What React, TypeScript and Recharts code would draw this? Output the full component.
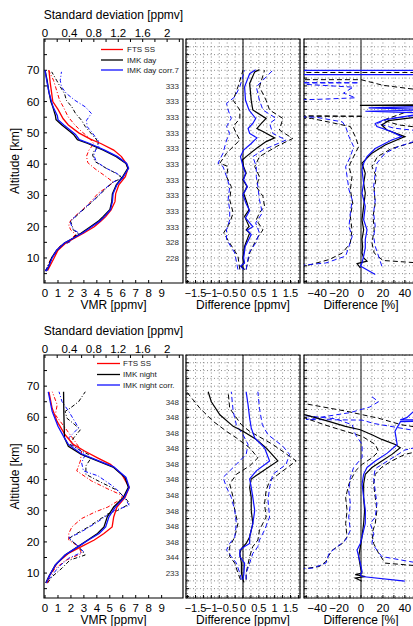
import {
  ScatterChart,
  Scatter,
  XAxis,
  YAxis,
  CartesianGrid,
  ReferenceLine,
  ReferenceArea,
} from "recharts";

type Pt = [number, number]; // [value, altitude km]

// ---- axes / ticks ----
const altTicks = [5, 10, 15, 20, 25, 30, 35, 40, 45, 50, 55, 60, 65, 70, 75];
const gridAltTicks = [
  2.5, 5, 7.5, 10, 12.5, 15, 17.5, 20, 22.5, 25, 27.5, 30, 32.5, 35, 37.5, 40,
  42.5, 45, 47.5, 50, 52.5, 55, 57.5, 60, 62.5, 65, 67.5, 70, 72.5, 75, 77.5,
];
const vmrTicks = [0, 1, 2, 3, 4, 5, 6, 7, 8, 9];
const stdTicks = [0, 0.2, 0.4, 0.6, 0.8, 1, 1.2, 1.4, 1.6, 1.8, 2, 2.2];
const stdLabels = [0, 0.4, 0.8, 1.2, 1.6, 2];
const diffTicks = [-1.75, -1.5, -1.25, -1, -0.75, -0.5, -0.25, 0, 0.25, 0.5, 0.75, 1, 1.25, 1.5, 1.75];
const diffLabels = [-1.5, -1, -0.5, 0, 0.5, 1, 1.5];
const pctTicks = [-50, -40, -30, -20, -10, 0, 10, 20, 30, 40, 50];
const pctLabels = [-40, -20, 0, 20, 40];

// number of coincidences per altitude level
const countAlts = [10, 15, 20, 25, 30, 35, 40, 45, 50, 55, 60, 65, 70];
const dayCounts = ["228", "328", "333", "333", "333", "333", "333", "333", "333", "333", "333", "333", "7"];
const nightCounts = ["233", "344", "348", "348", "348", "348", "348", "348", "348", "348", "348", "348", ""];

// ---- day: VMR profiles ----
const dayFtsVmr: Pt[] = [[0.2,6],[0.45,8],[0.7,10],[1.0,12.5],[1.6,14.8],[2.3,16.4],[3.0,18],[3.8,20],[4.3,21.7],[4.7,23.3],[5.1,25.4],[5.4,28],[5.45,30.5],[5.7,33.4],[6.2,36],[6.4,38.5],[6.3,40],[5.9,42.4],[5.3,44.5],[4.3,46.6],[3.5,48],[2.6,50],[1.8,52.5],[1.4,54.5],[1.0,57.5],[0.6,60],[0.5,63],[0.4,66],[0.3,70]];
const dayImkVmr: Pt[] = [[0.1,5.8],[0.3,7.5],[0.5,10],[0.9,12.5],[1.5,14.8],[2.2,16.4],[2.8,18],[3.5,20],[4.1,21.7],[4.5,23.3],[5.0,25.4],[5.15,28],[5.2,30.5],[5.5,33.4],[6.0,36],[6.4,38.7],[6.25,40.2],[5.5,42.4],[4.5,44.5],[3.3,46.6],[2.5,47.8],[2.2,49.5],[1.9,50.5],[1.3,52.5],[0.85,54.2],[0.8,55.5],[0.6,58.3],[0.45,60],[0.3,63],[0.15,67],[0,70]];
const dayCorrVmr: Pt[] = [[0.1,5.8],[0.3,7.5],[0.55,10],[0.9,12.5],[1.5,14.8],[2.2,16.4],[2.9,18],[3.6,20],[4.2,21.7],[4.6,23.3],[5.05,25.4],[5.2,28],[5.25,30.5],[5.55,33.4],[6.05,36],[6.45,38.7],[6.3,40.2],[5.6,42.4],[4.6,44.5],[3.45,46.6],[2.65,47.8],[2.35,49.5],[2.05,50.5],[1.45,52.5],[1.0,54.2],[0.95,55.5],[0.62,58.3],[0.5,60],[0.3,63],[0.12,67],[0,70]];
const dayFtsStd: Pt[] = [[0.01,5.8],[0.1,10],[0.24,13.7],[0.4,15.5],[0.5,17.5],[0.42,19],[0.39,20.5],[0.42,22],[0.5,23.5],[0.62,25.5],[0.75,28],[0.87,30.7],[1.03,32.8],[1.12,34.2],[1.0,36],[0.82,38.5],[0.7,40.5],[0.68,42.5],[0.72,44.5],[0.8,46.5],[0.72,48.5],[0.6,50.4],[0.49,52.5],[0.38,55.1],[0.3,58.3],[0.24,60.4],[0.19,63.6],[0.14,66.8],[0.06,70]];
const dayImkStd: Pt[] = [[0.005,5.8],[0.11,10],[0.25,13.7],[0.41,15.3],[0.54,18],[0.46,19],[0.45,20],[0.42,21.7],[0.48,22.8],[0.57,24.4],[0.69,26.5],[0.81,28.6],[0.92,30.7],[1.03,32.8],[1.12,34.4],[1.27,35.5],[1.16,37.1],[1.0,38.7],[0.82,40.8],[0.78,42.9],[0.81,44.5],[0.87,45.6],[0.85,47.7],[0.8,48.8],[0.73,50.4],[0.66,52],[0.6,54],[0.5,56.2],[0.44,58.3],[0.35,60.4],[0.32,62.6],[0.25,64.7],[0.19,66.8],[0.11,69.5]];
const dayCorrStd: Pt[] = [[0.005,5.8],[0.12,10],[0.26,13.7],[0.42,15.3],[0.56,18],[0.47,19],[0.44,20],[0.41,21.7],[0.47,22.8],[0.56,24.4],[0.68,26.5],[0.8,28.6],[0.91,30.7],[1.02,32.8],[1.13,34.4],[1.29,35.5],[1.17,37.1],[1.0,38.7],[0.84,40.8],[0.8,42.9],[0.83,44.5],[0.88,45.6],[0.87,47.7],[0.82,48.8],[0.76,50.4],[0.69,52],[0.68,54],[0.76,56.2],[0.66,58.3],[0.49,60.4],[0.35,62.6],[0.27,64.7],[0.25,66.8],[0.27,69.5]];

// ---- day: differences [ppmv] ----
const dayDiffImk: Pt[] = [[0.05,6.3],[-0.05,7.4],[0.03,8.4],[0,10],[0.05,13.7],[0.21,18],[0.1,19],[0.19,20.1],[0.05,23.3],[0.19,25.4],[0.13,27.5],[0.02,30.7],[0.13,32.8],[0,35],[0.1,37.1],[0.02,39.2],[-0.02,41.3],[0.1,42.4],[0.42,45],[0.73,47.2],[1.0,48.4],[0.63,50.4],[0.44,51.4],[0.58,53],[0.73,54.6],[0.31,57.3],[0.26,60.4],[0.21,65.8],[0.37,69.5],[0.52,70.2]];
const dayDiffCorr: Pt[] = [[0.02,6.3],[-0.08,7.4],[0.05,8.4],[0.02,10],[0.07,13.7],[0.26,17.5],[0.13,18.9],[0.31,20],[0.08,22.8],[0.21,25.2],[0.1,27.3],[0,30.2],[0.14,32.8],[0.02,35],[0.08,37.1],[0,39.2],[-0.05,41.3],[-0.08,42.4],[0.02,44.5],[0.26,46.6],[0.44,48.4],[0.21,49.8],[0.16,51.4],[0.31,53],[0.4,54.6],[0.19,57.3],[0.08,60.4],[0.05,64.7],[0.21,68.9],[0.4,70.2]];
const dayDiffImkHi: Pt[] = [[0.1,6.3],[0.21,11.6],[0.42,15.9],[0.63,19],[0.42,22.2],[0.52,24.4],[0.68,26.5],[0.63,29.7],[0.42,32.8],[0.52,36],[0.37,39.2],[0.52,42.4],[1.05,45.6],[1.57,48.2],[1.15,50.9],[1.26,54.6],[0.84,57.3],[0.73,60.4],[0.52,64.7],[0.68,70]];
const dayDiffCorrHi: Pt[] = [[0.1,6.3],[0.19,11.6],[0.4,14.8],[0.52,18],[0.4,21.2],[0.61,24.4],[0.52,28.6],[0.47,32.8],[0.42,36],[0.42,39.2],[0.31,42.4],[0.63,44.5],[1.36,47.7],[0.94,49.8],[0.84,53],[1.05,54.6],[0.63,57.3],[0.52,60.4],[0.42,64.7],[0.94,70]];
const dayDiffImkLo: Pt[] = [[-0.1,6.3],[-0.16,10.6],[-0.42,14.8],[-0.61,18],[-0.42,21.2],[-0.31,24.4],[-0.42,28.6],[-0.37,32.8],[-0.52,36],[-0.47,39.2],[-0.73,40.3],[-0.52,43.5],[-0.1,47.7],[-0.21,49.8],[-0.31,52],[-0.1,54.6],[-0.1,57.3],[-0.31,60.4],[-0.16,64.7],[0,70]];
const dayDiffCorrLo: Pt[] = [[-0.16,6.3],[-0.26,11.6],[-0.52,15.9],[-0.52,19],[-0.42,22.2],[-0.42,25.4],[-0.47,28.6],[-0.42,32.8],[-0.52,36],[-0.63,39.2],[-0.79,40.3],[-0.63,43.5],[-0.52,47.7],[-0.42,49.8],[-0.52,52],[-0.37,54.6],[-0.47,57.3],[-0.52,59.4],[-0.26,61.5],[-0.1,64.7],[0.05,70]];

// ---- day: differences [%] ----
const dayPctImk: Pt[] = [[-0.6,6.8],[-3.6,8.2],[5.5,9],[2.4,10],[0.9,11.6],[1.5,13.7],[0.9,15.9],[2.4,19],[0.9,22.2],[2.4,26.5],[3.9,30.7],[2.4,33.9],[3.9,37.1],[0.9,40.3],[10,43.5],[22,46.1],[40,48.8],[23.6,50.9],[19,52.5],[25,53.9],[48,54.9],[70,55.5],[70,58.6],[-1,58.8],[70,59]];
const dayPctCorr: Pt[] = [[13,4.7],[-0.6,7.4],[0.9,8.4],[2.4,10.6],[3.9,13.2],[3.9,15.9],[5.5,19],[2.4,22.2],[3.9,26.5],[0.9,30.7],[2.4,33.9],[0.9,38.2],[2.4,40.3],[5.5,42.4],[13,45],[28,47.7],[37,48.8],[28,50.4],[14.5,52],[13,53],[20.6,54.1],[48,55.7],[70,56.2],[4,56.9],[70,57.4],[7,58],[70,58.5],[70,68.6],[-70,68.6],[-70,70],[70,70]];
const dayPctImkLo: Pt[] = [[-70,7.2],[-50,7.5],[-29,9.5],[-17,11.6],[-9.7,14.8],[-8.2,19],[-9.7,23.3],[-7.6,27.5],[-9.7,31.8],[-8.2,36],[-11.2,39.2],[-6.7,42.4],[-2.1,45.6],[-5.2,48.8],[-9.7,52],[-45,54.6],[-70,54.8],[-70,55.3],[2,55.3],[-70,55.5],[-70,60.6],[-50,60.8],[-70,61.2],[-70,67],[0,67],[20,65.2],[70,63],[70,69.3],[-70,69.3]];
const dayPctImkHi: Pt[] = [[70,8],[20,9.2],[12,11.6],[10,14.8],[12,19],[11,23.3],[13,27.5],[12,31.8],[14,36],[10,39.2],[15,42.4],[28,45],[50,47.2],[70,48],[70,51],[35,52.5],[20,54],[40,56.5],[70,57]];
const dayPctCorrLo: Pt[] = [[-70,7.6],[-50,7.8],[-32,8.4],[-14,10.6],[-11,13.7],[-8,16.9],[-11,20],[-9.7,24.4],[-8,28.6],[-11,31.8],[-12.7,36],[-14,39.2],[-9.7,42.4],[-6.7,45.6],[-11,48.8],[-14,52],[-17,53.5],[-41,55],[-70,55.2],[-70,60.5],[-40,60.7],[-5,61.2],[-16,62.7],[-7,64.6],[-70,65.9],[-2,66],[-70,66.1]];
const dayPctCorrHi: Pt[] = [[19,7.4],[16,10.6],[13,13.7],[11.5,16.9],[13,20],[11.5,24.4],[13,28.6],[11.5,32.8],[13,37.1],[14.5,40.3],[22,43.5],[34,45.6],[48,47.2],[70,48],[70,50],[30,51.5],[15,53],[25,54.5],[60,56],[70,56.5]];

// ---- night: VMR profiles ----
const nightFtsVmr: Pt[] = [[0.18,6.8],[0.3,8.9],[0.93,13.2],[1.8,16.3],[2.8,18.5],[3.8,20.6],[4.55,22.7],[5.18,24.8],[5.3,28],[5.55,31.2],[6.18,34.3],[6.5,37.5],[5.93,41.7],[5.05,44.9],[4.05,47],[3.05,49.2],[2.18,51.3],[1.55,54.4],[0.93,58.7],[0.55,62.9],[0.3,68.2]];
const nightImkVmr: Pt[] = [[0.05,6.8],[0.3,8.9],[0.8,12.6],[1.55,15.8],[2.55,18.5],[3.3,20.6],[4.05,22.7],[4.55,24.8],[4.8,28],[5.3,31.2],[6.05,34.3],[6.43,37.5],[6.18,40.7],[5.3,43.9],[4.05,46],[2.8,48.1],[1.8,50.7],[1.5,53.4],[1.45,61.9],[1.43,68.2]];
const nightCorrVmr: Pt[] = [[0.1,6.8],[0.3,8.9],[0.8,12.6],[1.55,15.8],[2.55,18.5],[3.35,20.6],[4.18,22.7],[4.68,24.8],[4.93,28],[5.43,31.2],[6.13,34.3],[6.5,37.5],[6.25,40.7],[5.3,44.1],[4.05,46.2],[2.8,48.3],[1.8,51.3],[1.43,53.9],[1.0,57.1],[0.55,61.9],[0.25,68.2]];
const nightFtsStd: Pt[] = [[0.04,7.9],[0.15,11.1],[0.33,14],[0.6,16.3],[0.55,18.5],[0.39,20.6],[0.39,22.7],[0.44,24.8],[0.6,27.5],[0.82,29.6],[1.03,31.2],[1.25,33.8],[1.27,34.9],[1.03,37],[0.76,39.6],[0.52,42.8],[0.58,46],[0.6,49.2],[0.49,52.3],[0.33,56.6],[0.17,60.8],[0.2,64],[0.12,68.2]];
const nightImkStd: Pt[] = [[0.04,6.8],[0.12,8.9],[0.28,11.6],[0.41,14.2],[0.66,15.8],[0.55,18.5],[0.39,21.1],[0.52,22.7],[0.71,24.8],[0.87,26.9],[1.03,29],[1.19,30.1],[1.38,32.2],[1.35,33.3],[1.19,36.5],[0.87,39.6],[0.67,41.7],[0.67,44.4],[0.74,46.5],[0.71,48.1],[0.55,49.7],[0.41,51.3],[0.47,53.4],[0.58,56],[0.49,57.6],[0.36,59.7],[0.33,61.9],[0.41,62.9],[0.55,65],[0.66,68.2]];
const nightCorrStd: Pt[] = [[0.06,7.9],[0.23,12.1],[0.39,14.8],[0.63,16.9],[0.55,18.5],[0.39,21.4],[0.55,22.7],[0.82,25.9],[1.14,30.1],[1.38,31.7],[1.3,34.3],[1.14,37.5],[0.87,41.2],[0.63,42.8],[0.6,45.4],[0.66,48.1],[0.44,51.3],[0.39,53.4],[0.55,56.6],[0.39,61.9],[0.28,65],[0.23,68.2]];

// ---- night: differences [ppmv] ----
const nightDiffImk: Pt[] = [[0.03,7],[0,7.9],[-0.05,10],[-0.05,13.2],[-0.1,16.3],[-0.05,17.9],[0.1,19.5],[0.21,21.6],[0.31,25.9],[0.26,30.1],[0.26,34.3],[0.21,37.5],[0.26,40.2],[0.63,42.8],[1.1,46],[0.73,50.2],[0.42,52.9],[0,55.5],[-0.31,57.1],[-0.73,60.8],[-1.0,65],[-1.1,68.2]];
const nightDiffCorr: Pt[] = [[0,7.9],[0.03,10],[0.05,13.2],[-0.1,15.3],[-0.1,17.4],[0.05,18.5],[0.21,19.5],[0.21,21.6],[0.31,25.9],[0.37,30.1],[0.31,34.3],[0.26,37.5],[0.21,40.2],[0.42,42.8],[0.84,46],[0.68,50.2],[0.37,53.4],[0.26,56.6],[0.21,59.7],[0.16,64],[0.1,68.2]];
const nightDiffImkHi: Pt[] = [[0.1,7.9],[0.1,10],[0.21,15.3],[0.31,18.5],[0.47,20.6],[0.52,23.8],[0.73,28],[0.68,32.2],[0.73,36.5],[0.84,39.6],[1.26,42.8],[1.68,46],[0.94,51.3],[0.21,55.5],[-0.05,57.6],[-0.42,62.9],[-0.47,68.2]];
const nightDiffImkLo: Pt[] = [[-0.08,7.9],[-0.16,10],[-0.26,13.2],[-0.42,15.3],[-0.42,18.5],[-0.26,21.6],[-0.16,25.9],[-0.26,30.1],[-0.31,34.3],[-0.42,38.6],[-0.21,41.7],[0.21,44.4],[0.47,47],[0.21,50.2],[-0.21,53.4],[-0.52,55.5],[-0.94,58.7],[-1.36,62.9],[-1.78,68.2]];
const nightDiffCorrHi: Pt[] = [[0.1,7.9],[0.1,10],[0.21,13.2],[0.31,16.3],[0.47,18.5],[0.52,20.6],[0.68,23.8],[0.84,28],[0.79,33.3],[0.84,37.5],[0.94,41.7],[1.36,44.9],[1.47,48.1],[1.26,50.7],[0.79,54.4],[0.61,57.6],[0.52,62.9],[0.47,68.2]];
const nightDiffCorrLo: Pt[] = [[-0.05,7.9],[-0.1,10],[-0.21,13.2],[-0.37,15.3],[-0.52,17.4],[-0.42,19.5],[-0.26,21.6],[-0.21,25.9],[-0.26,30.1],[-0.37,34.3],[-0.52,37.5],[-0.63,40.7],[-0.31,43.9],[0.1,48.1],[0.16,51.3],[0,54.4],[-0.21,57.6],[-0.31,61.9],[-0.37,68.2]];

// ---- night: differences [%] ----
const nightPctImk: Pt[] = [[0.9,7.4],[-5.2,8.4],[3.9,8.9],[-5.2,9.5],[0.9,10],[-0.6,12.1],[-2.1,15.3],[-0.6,18.5],[0.9,21.6],[2.4,25.9],[3.3,30.1],[2.4,34.3],[2.4,38.6],[3.9,41.7],[10,43.9],[19,46],[28.2,48.1],[35.8,50.2],[31.2,51.3],[19,52.9],[10,54.4],[-0.6,56],[-14.2,57.1],[-29.4,58.7],[-50.6,60.8],[-70,61.8]];
const nightPctCorr: Pt[] = [[40,7.4],[0.9,8.9],[-0.6,9.5],[0.9,10.5],[-0.6,13.2],[-2.1,15.3],[-3.6,17.4],[-0.6,19.5],[0.9,21.6],[2.4,23.7],[3.9,25.9],[4,30.1],[2.4,34.3],[1,38.6],[2.4,41.7],[5.5,43.9],[13,46],[24,48.5],[33,51.3],[31,55.5],[36,58.6],[70,58.9],[70,59.1],[35.8,59.2],[41.8,59.9],[48,61.9],[70,63.5]];
const nightPctImkHi: Pt[] = [[70,11.8],[22,13.2],[16,16.4],[11.5,19.5],[10,22.7],[13,25.9],[14.5,30.1],[13,34.3],[11.5,38.6],[13,41.7],[19,44],[28,46],[40,48.1],[70,50.5],[70,55.8],[37,57.6],[16,59.7],[-14,62],[-50,64.3],[-70,64.8]];
const nightPctImkLo: Pt[] = [[-70,11.4],[-48,11.6],[-38,12.1],[-32,13.7],[-30,15.3],[-26,17.4],[-17,19.5],[-12.7,21.6],[-14,25.9],[-12.7,30.1],[-14,34.3],[-11,38.6],[-8,40.7],[-5,42.8],[1,44.9],[10,47],[16,49],[13,51.3],[1,53.9],[-14,55.5],[-29,57.1],[-50.6,59.7],[-70,60]];
const nightPctCorrHi: Pt[] = [[70,12.1],[19,15.3],[14.5,17.4],[10,19.5],[11.5,22.7],[8.5,25.9],[13,28],[14.5,32.2],[13,36.4],[11.5,40.5],[13,43.5],[22,45.5],[31,47.5],[40,49.5],[70,52],[70,55],[45,56],[12,58],[1,59.1],[-50,59.3],[-10,61.5],[8,63.3],[16,65],[10,66.6]];
const nightPctCorrLo: Pt[] = [[-70,11],[-44,11.6],[-32,13.2],[-29,16.4],[-21.5,18.5],[-14,20.6],[-9.7,23.7],[-11.2,28],[-9.7,32.2],[-11.2,36.4],[-9.7,40.7],[-6.7,43.9],[1,47.1],[1,51.3],[-5,54.4],[-8,57.6],[-23,59.5],[-50,60.5],[-70,61]];

// ---- styling ----
const FONT = "'Liberation Sans', Arial, Helvetica, sans-serif";
const RED = "#ff0000";
const BLACK = "#000000";
const BLUE = "#1010ff";
const ALT_DOMAIN: [number, number] = [2, 80];
const VMR_DOMAIN: [number, number] = [-0.08, 10.65];
const STD_DOMAIN: [number, number] = [-0.016, 2.26];
const DIFF_DOMAIN: [number, number] = [-1.8, 1.8];
const PCT_DOMAIN: [number, number] = [-52, 52];
const tickStyle = { fontSize: 11.5, fill: "#000" };
const titleStyle = { fontSize: 12, fill: "#000" };
const EXTRA = 6; // room below the axis titles so descenders are not clipped

const pts = (arr: Pt[]) => arr.map(([x, y]) => ({ x, y }));
const fmtMinus = (v: number) => String(v).replace("-", "\u2212");
const noShape = () => <g />;

function trace(key: string, data: Pt[], color: string, dash?: string, width = 1.2, xAxisId: string | number = 0) {
  return (
    <Scatter
      key={key}
      data={pts(data)}
      xAxisId={xAxisId}
      fill={color}
      shape={noShape}
      line={{ stroke: color, strokeWidth: width, strokeDasharray: dash }}
      legendType="none"
      isAnimationActive={false}
    />
  );
}

interface Row {
  top: number;
  height: number;
  ftsVmr: Pt[]; imkVmr: Pt[]; corrVmr: Pt[];
  ftsStd: Pt[]; imkStd: Pt[]; corrStd: Pt[];
  diffImk: Pt[]; diffCorr: Pt[]; diffImkLo: Pt[]; diffImkHi: Pt[]; diffCorrLo: Pt[]; diffCorrHi: Pt[];
  pctImk: Pt[]; pctCorr: Pt[]; pctImkLo: Pt[]; pctImkHi: Pt[]; pctCorrLo: Pt[]; pctCorrHi: Pt[];
  counts: string[];
  labels: string[];
  legendY: number[];
  legendX: [number, number, number];
}

const rows: Row[] = [
  {
    top: 0, height: 310,
    ftsVmr: dayFtsVmr, imkVmr: dayImkVmr, corrVmr: dayCorrVmr,
    ftsStd: dayFtsStd, imkStd: dayImkStd, corrStd: dayCorrStd,
    diffImk: dayDiffImk, diffCorr: dayDiffCorr, diffImkLo: dayDiffImkLo, diffImkHi: dayDiffImkHi, diffCorrLo: dayDiffCorrLo, diffCorrHi: dayDiffCorrHi,
    pctImk: dayPctImk, pctCorr: dayPctCorr, pctImkLo: dayPctImkLo, pctImkHi: dayPctImkHi, pctCorrLo: dayPctCorrLo, pctCorrHi: dayPctCorrHi,
    counts: dayCounts,
    labels: ["FTS SS", "IMK day", "IMK day corr."],
    legendY: [49.5, 60, 70],
    legendX: [101, 123, 127],
  },
  {
    top: 316, height: 309,
    ftsVmr: nightFtsVmr, imkVmr: nightImkVmr, corrVmr: nightCorrVmr,
    ftsStd: nightFtsStd, imkStd: nightImkStd, corrStd: nightCorrStd,
    diffImk: nightDiffImk, diffCorr: nightDiffCorr, diffImkLo: nightDiffImkLo, diffImkHi: nightDiffImkHi, diffCorrLo: nightDiffCorrLo, diffCorrHi: nightDiffCorrHi,
    pctImk: nightPctImk, pctCorr: nightPctCorr, pctImkLo: nightPctImkLo, pctImkHi: nightPctImkHi, pctCorrLo: nightPctCorrLo, pctCorrHi: nightPctCorrHi,
    counts: nightCounts,
    labels: ["FTS SS", "IMK night", "IMK night corr."],
    legendY: [47.5, 58.5, 69],
    legendX: [97, 120, 123],
  },
];

function ProfileRow({ r }: { r: Row }) {
  const countLabel = (v: number) => {
    const i = countAlts.indexOf(v);
    return i >= 0 ? r.counts[i] : "";
  };
  const colors = [RED, BLACK, BLUE];
  const h = r.height + EXTRA;
  return (
    <>
      {/* VMR profiles + standard deviations */}
      <div style={{ position: "absolute", left: 0, top: r.top }}>
        <ScatterChart width={186} height={h} margin={{ top: 0, right: 3, bottom: EXTRA, left: 0 }}>
          <XAxis xAxisId="vmr" type="number" dataKey="x" domain={VMR_DOMAIN} allowDataOverflow ticks={vmrTicks} interval={0}
            height={27} axisLine={false} tickLine={{ stroke: "#000" }} tickSize={-3} tickMargin={8.9} tick={tickStyle}
            label={{ value: "VMR [ppmv]", position: "insideBottom", offset: 0.7, ...titleStyle }} />
          <XAxis xAxisId="std" orientation="top" type="number" dataKey="x" domain={STD_DOMAIN} allowDataOverflow ticks={stdTicks} interval={0}
            height={39} axisLine={false} tickLine={{ stroke: "#000" }} tickSize={-3} tickMargin={4.9} tick={tickStyle}
            tickFormatter={(v: number) => (stdLabels.includes(v) ? String(v) : "")}
            label={{ value: "Standard deviation [ppmv]", position: "insideTop", offset: 10.8, ...titleStyle }} />
          <YAxis type="number" dataKey="y" domain={ALT_DOMAIN} allowDataOverflow ticks={altTicks} interval={0} width={44}
            axisLine={false} tickLine={{ stroke: "#000" }} tickSize={-3} tickMargin={7.5} tick={tickStyle}
            tickFormatter={(v: number) => (v % 10 === 0 && v >= 10 && v <= 70 ? String(v) : "")}
            label={{ value: "Altitude [km]", angle: -90, position: "insideLeft", offset: 15, ...titleStyle, style: { textAnchor: "middle" } }} />
          <ReferenceArea xAxisId="vmr" x1={VMR_DOMAIN[0]} x2={VMR_DOMAIN[1]} y1={ALT_DOMAIN[0]} y2={ALT_DOMAIN[1]} fill="none" stroke="#000" strokeWidth={1.2} />
          {trace("fs", r.ftsStd, RED, "4 2 1 2", 1, "std")}
          {trace("is", r.imkStd, BLACK, "4 2 1 2", 1, "std")}
          {trace("cs", r.corrStd, BLUE, "4 2 1 2", 1, "std")}
          {trace("fv", r.ftsVmr, RED, undefined, 1.3, "vmr")}
          {trace("iv", r.imkVmr, BLACK, undefined, 1.3, "vmr")}
          {trace("cv", r.corrVmr, BLUE, undefined, 1.3, "vmr")}
        </ScatterChart>
      </div>

      {/* absolute differences */}
      <div style={{ position: "absolute", left: 150, top: r.top }}>
        <ScatterChart width={152} height={h} margin={{ top: 39, right: 2, bottom: EXTRA, left: 0 }}>
          <CartesianGrid stroke="#8a8a8a" strokeDasharray="1 2.5" />
          <XAxis type="number" dataKey="x" domain={DIFF_DOMAIN} allowDataOverflow ticks={diffTicks} interval={0}
            height={27} axisLine={false} tickLine={{ stroke: "#000" }} tickSize={-3} tickMargin={8.9} tick={{ fontSize: 11, fill: "#000" }}
            tickFormatter={(v: number) => (diffLabels.includes(v) ? fmtMinus(v) : "")}
            label={{ value: "Difference [ppmv]", position: "insideBottom", offset: 0.7, ...titleStyle }} />
          <YAxis type="number" dataKey="y" domain={ALT_DOMAIN} allowDataOverflow ticks={gridAltTicks} interval={0} width={36}
            axisLine={false} tickLine={{ stroke: "#000" }} tickSize={-3} tickMargin={10} tick={{ fontSize: 8, fill: "#333" }}
            tickFormatter={countLabel} />
          <ReferenceLine x={0} stroke="#000" strokeWidth={1} />
          <ReferenceArea x1={DIFF_DOMAIN[0]} x2={DIFF_DOMAIN[1]} y1={ALT_DOMAIN[0]} y2={ALT_DOMAIN[1]} fill="none" stroke="#000" strokeWidth={1.2} />
          {trace("il", r.diffImkLo, BLACK, "5 3", 1)}
          {trace("ih", r.diffImkHi, BLACK, "5 3", 1)}
          {trace("cl", r.diffCorrLo, BLUE, "5 3", 1)}
          {trace("ch", r.diffCorrHi, BLUE, "5 3", 1)}
          {trace("id", r.diffImk, BLACK, undefined, 1.2)}
          {trace("cd", r.diffCorr, BLUE, undefined, 1.2)}
        </ScatterChart>
      </div>

      {/* relative differences */}
      <div style={{ position: "absolute", left: 296, top: r.top }}>
        <ScatterChart width={124} height={h} margin={{ top: 39, right: 2, bottom: EXTRA, left: 0 }}>
          <CartesianGrid stroke="#8a8a8a" strokeDasharray="1 2.5" />
          <XAxis type="number" dataKey="x" domain={PCT_DOMAIN} allowDataOverflow ticks={pctTicks} interval={0}
            height={27} axisLine={false} tickLine={{ stroke: "#000" }} tickSize={-3} tickMargin={8.9} tick={tickStyle}
            tickFormatter={(v: number) => (pctLabels.includes(v) ? fmtMinus(v) : "")}
            label={{ value: "Difference [%]", position: "insideBottom", offset: 0.7, ...titleStyle }} />
          <YAxis type="number" dataKey="y" domain={ALT_DOMAIN} allowDataOverflow ticks={gridAltTicks} interval={0} width={8}
            axisLine={false} tickLine={{ stroke: "#000" }} tickSize={-3} tickMargin={4} tick={{ fontSize: 8, fill: "#333" }}
            tickFormatter={() => ""} />
          <ReferenceLine x={0} stroke="#666" strokeWidth={1.6} />
          <ReferenceArea x1={PCT_DOMAIN[0]} x2={PCT_DOMAIN[1]} y1={ALT_DOMAIN[0]} y2={ALT_DOMAIN[1]} fill="none" stroke="#000" strokeWidth={1.2} />
          {trace("pil", r.pctImkLo, BLACK, "5 3", 1)}
          {trace("pih", r.pctImkHi, BLACK, "5 3", 1)}
          {trace("pcl", r.pctCorrLo, BLUE, "5 3", 1)}
          {trace("pch", r.pctCorrHi, BLUE, "5 3", 1)}
          {trace("pi", r.pctImk, BLACK, undefined, 1.2)}
          {trace("pc", r.pctCorr, BLUE, undefined, 1.2)}
        </ScatterChart>
      </div>

      {/* legend */}
      <svg width={186} height={80} style={{ position: "absolute", left: 0, top: r.top }}>
        {r.labels.map((txt, i) => (
          <g key={txt}>
            <line x1={r.legendX[0]} x2={r.legendX[1]} y1={r.legendY[i]} y2={r.legendY[i]} stroke={colors[i]} strokeWidth={1.3} />
            <text x={r.legendX[2]} y={r.legendY[i] + 2.8} fontSize={8} fill="#222">{txt}</text>
          </g>
        ))}
      </svg>
    </>
  );
}

export default function App() {
  return (
    <div
      style={{
        position: "absolute", left: 0, top: 0, width: 413, height: 626,
        overflow: "hidden", background: "#fff", fontFamily: FONT,
      }}
    >
      {rows.map((r) => (
        <ProfileRow key={r.top} r={r} />
      ))}
    </div>
  );
}
